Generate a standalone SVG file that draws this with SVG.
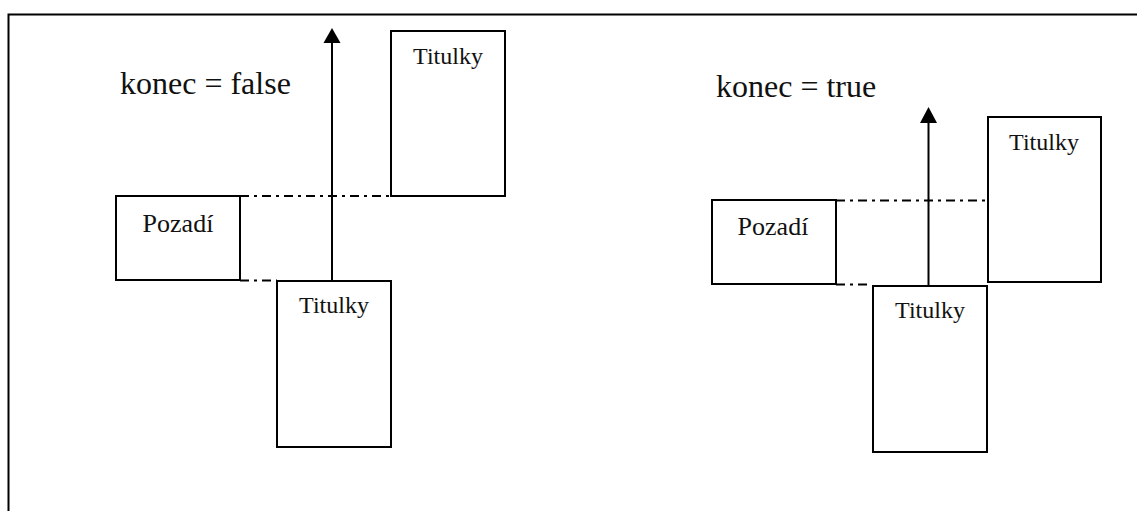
<svg xmlns="http://www.w3.org/2000/svg" width="1137" height="511" viewBox="0 0 1137 511">
<style>
.box{fill:#fff;stroke:#000;stroke-width:2}
.frame{fill:none;stroke:#000;stroke-width:2}
.dd{fill:none;stroke:#000;stroke-width:2;stroke-dasharray:9 5 3 5}
.arr{fill:none;stroke:#000;stroke-width:2}
.t{font-family:"Liberation Serif","Times New Roman",serif;fill:#111;text-anchor:middle}
.lbl{font-size:24px}
.big{font-family:"Liberation Serif","Times New Roman",serif;fill:#111;font-size:32px}
</style>
<rect width="1137" height="511" fill="#fff"/>
<g id="frame">
<path class="frame" d="M8.5 511 V14.5 H1137"/>
</g>
<g id="connectors">
<line class="dd" x1="240" y1="196" x2="391" y2="196"/>
<line class="dd" x1="240" y1="280.5" x2="277" y2="280.5"/>
<line class="dd" x1="836" y1="200.5" x2="1101" y2="200.5"/>
<line class="dd" x1="836" y1="284.5" x2="872" y2="284.5"/>
<path class="arr" d="M332 281 V43"/>
<path d="M332 28 L340.5 43 L323.5 43 Z" fill="#000"/>
<path class="arr" d="M928.5 286 V123"/>
<path d="M928.5 107 L937 123 L920 123 Z" fill="#000"/>
</g>
<g id="label-false">
<text class="big" x="120" y="94">konec = false</text>
</g>
<g id="label-true">
<text class="big" x="716" y="97">konec = true</text>
</g>
<g id="pozadi-left">
<rect class="box" x="116" y="196" width="124" height="84"/>
<text class="t" x="178" y="232" font-size="26px">Pozadí</text>
</g>
<g id="titulky-left-top">
<rect class="box" x="391" y="31" width="114" height="165"/>
<text class="t lbl" x="448" y="64">Titulky</text>
</g>
<g id="titulky-left-bottom">
<rect class="box" x="277" y="281" width="114" height="166"/>
<text class="t lbl" x="334" y="313">Titulky</text>
</g>
<g id="pozadi-right">
<rect class="box" x="712" y="200" width="124" height="84"/>
<text class="t" x="773" y="235" font-size="26px">Pozadí</text>
</g>
<g id="titulky-right-top">
<rect class="box" x="988" y="117" width="113" height="165"/>
<text class="t lbl" x="1044" y="150">Titulky</text>
</g>
<g id="titulky-right-bottom">
<rect class="box" x="873" y="286" width="114" height="166"/>
<text class="t lbl" x="930" y="318">Titulky</text>
</g>
</svg>
